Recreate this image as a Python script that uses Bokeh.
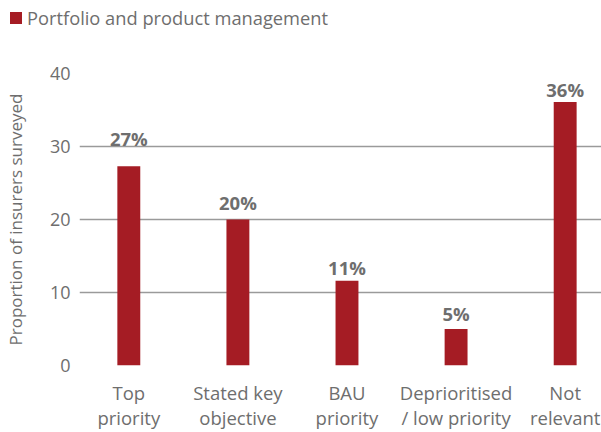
from bokeh.plotting import figure
from bokeh.layouts import column
from bokeh.models import (ColumnDataSource, Range1d, LabelSet, Legend, LegendItem,
                          FixedTicker)
from bokeh.core.properties import value
from bokeh.embed import file_html
from bokeh.resources import INLINE

# ---- data ----
categories = ["Top\npriority", "Stated key\nobjective", "BAU\npriority",
              "Deprioritised\n/ low priority", "Not\nrelevant"]
values = [27.3, 20.0, 11.6, 5.0, 36.1]
value_labels = ["27%", "20%", "11%", "5%", "36%"]
series_name = "Portfolio and product management"
y_ticks = [0, 10, 20, 30, 40]

# ---- styles ----
RED = "#a51c24"
GREY = "#6e6e6e"
FONT = "Open Sans"
label_gaps = [20, 10, 6, 8, 5]   # px between bar top and value label
W = 601
LEG_H = 36

idx = list(range(len(categories)))
src = ColumnDataSource(dict(x=idx, top=values, lab=value_labels, gap=label_gaps))

# ---------------- legend strip ----------------
# the strip's ranges keep its copy of the bars out of view; only the legend key shows
lg = figure(width=W, height=LEG_H, output_backend="svg", toolbar_location=None,
            x_range=Range1d(100, 101), y_range=Range1d(100, 101),
            x_axis_type=None, y_axis_type=None,
            min_border_left=0, min_border_right=0, min_border_top=0,
            min_border_bottom=0)
lg.frame_align = False
lg.outline_line_color = None
lg.grid.grid_line_color = None
leg_bars = lg.vbar(x="x", top="top", width=0.21, bottom=0, source=src,
                   fill_color=RED, line_color=None)
legend = Legend(items=[LegendItem(label=series_name, renderers=[leg_bars])],
                location=(8, 6), orientation="horizontal",
                glyph_width=15, glyph_height=15, label_standoff=4,
                padding=0, margin=0, spacing=0,
                border_line_color=None, background_fill_alpha=0,
                label_text_font=FONT, label_text_font_size="18.3px",
                label_text_color=GREY, label_height=15)
lg.add_layout(legend)

# ---------------- main chart ----------------
p = figure(width=W, height=432 - LEG_H, output_backend="svg", toolbar_location=None,
           x_range=Range1d(-0.452, 4.333), y_range=Range1d(0, 40),
           min_border_left=77, min_border_right=0, min_border_top=73 - LEG_H,
           min_border_bottom=65)
p.frame_align = False
p.outline_line_color = None
p.background_fill_color = "white"
p.border_fill_color = "white"

bars = p.vbar(x="x", top="top", width=0.21, bottom=0, source=src,
              fill_color=RED, line_color=None)

labels = LabelSet(x="x", y="top", text="lab", source=src, y_offset="gap",
                  text_align="center", text_baseline="alphabetic",
                  text_font=value(FONT), text_font_size=value("18.5px"),
                  text_font_style=value("bold"), text_color=value(GREY))
p.add_layout(labels)

p.xaxis.ticker = FixedTicker(ticks=idx)
p.xaxis.major_label_overrides = {i: c for i, c in zip(idx, categories)}
p.xaxis.axis_line_color = None
p.xaxis.major_tick_line_color = None
p.xaxis.minor_tick_line_color = None
p.xaxis.major_tick_in = 0
p.xaxis.major_tick_out = 0
p.xaxis.major_label_standoff = 14
p.xaxis.major_label_text_font = FONT
p.xaxis.major_label_text_font_size = "18.5px"
p.xaxis.major_label_text_color = GREY
p.xaxis.major_label_text_line_height = 1.0
p.xgrid.grid_line_color = None

p.yaxis.ticker = FixedTicker(ticks=y_ticks)
p.yaxis.axis_line_color = None
p.yaxis.major_tick_line_color = None
p.yaxis.minor_tick_line_color = None
p.yaxis.major_tick_in = 0
p.yaxis.major_tick_out = 0
p.yaxis.major_label_standoff = 9
p.yaxis.major_label_text_font = FONT
p.yaxis.major_label_text_font_size = "18px"
p.yaxis.major_label_text_color = GREY
p.yaxis.axis_label = "Proportion of insurers surveyed"
p.yaxis.axis_label_text_font = FONT
p.yaxis.axis_label_text_font_size = "17px"
p.yaxis.axis_label_text_font_style = "normal"
p.yaxis.axis_label_text_color = GREY
p.yaxis.axis_label_standoff = 20
p.ygrid.ticker = FixedTicker(ticks=y_ticks)
p.ygrid.grid_line_color = "#9a9a9a"
p.ygrid.grid_line_width = 1.3

layout = column(lg, p, spacing=0)
open("out.html", "w").write(file_html(layout, INLINE))
